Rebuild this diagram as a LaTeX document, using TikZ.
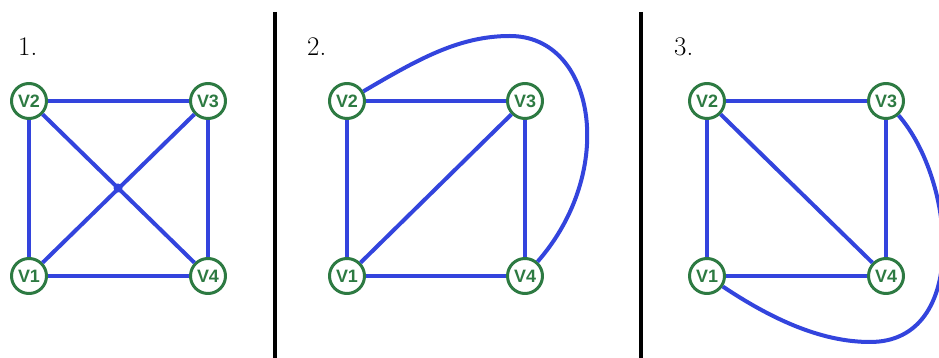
\documentclass[tikz,border=0pt]{standalone}
\usepackage{fontspec}
\newfontfamily\vfont{Liberation Sans}
\definecolor{vblue}{RGB}{51,68,221}
\definecolor{vgreen}{RGB}{45,122,66}
\tikzset{
  vertex/.style={circle,draw=vgreen,line width=3bp,fill=white,minimum size=35bp,inner sep=0pt,text=vgreen,font=\vfont\bfseries\fontsize{18}{20}\selectfont},
  edge/.style={vblue,line width=4bp},
  divider/.style={black,line width=4bp},
  panellabel/.style={anchor=base west,inner sep=0pt,font=\fontsize{27}{32}\selectfont},
}
\begin{document}
\begin{tikzpicture}[line join=round,]
\useasboundingbox (0bp,0bp) rectangle (939bp,358bp);
\clip (0bp,0bp) rectangle (939bp,358bp);
%%
\node (lab_1) at (18bp,302bp) [panellabel] {1.};
  \node (lab_2) at (307bp,302bp) [panellabel] {2.};
  \node (lab_3) at (674bp,302bp) [panellabel] {3.};
  \coordinate (div_1t) at (275bp,346bp);
  \coordinate (div_1b) at (275bp,0bp);
  \coordinate (div_2t) at (641bp,346bp);
  \coordinate (div_2b) at (641bp,0bp);
  \draw [divider] (div_1t) -- (div_1b);
  \draw [divider] (div_2t) -- (div_2b);
%
\node (a_1) at (29bp,82bp) [vertex] {V1};
  \node (a_2) at (29bp,257bp) [vertex] {V2};
  \node (a_3) at (208bp,257bp) [vertex] {V3};
  \node (a_4) at (208bp,82bp) [vertex] {V4};
  \coordinate (a_x) at (118bp,170bp);
  \draw [edge] (a_1) -- (a_2);
  \draw [edge] (a_2) -- (a_3);
  \draw [edge] (a_3) -- (a_4);
  \draw [edge] (a_4) -- (a_1);
  \draw [edge] (a_1) -- (a_3);
  \draw [edge] (a_2) -- (a_4);
  \fill [vblue] (a_x) circle (4.5bp);
%
\node (b_1) at (347bp,82bp) [vertex] {V1};
  \node (b_2) at (347bp,257bp) [vertex] {V2};
  \node (b_3) at (525bp,257bp) [vertex] {V3};
  \node (b_4) at (525bp,82bp) [vertex] {V4};
  \coordinate (b_top) at (510bp,322bp);
  \draw [edge] (b_1) -- (b_2);
  \draw [edge] (b_2) -- (b_3);
  \draw [edge] (b_3) -- (b_4);
  \draw [edge] (b_4) -- (b_1);
  \draw [edge] (b_1) -- (b_3);
  \draw [edge] (b_2) ..controls (420bp,300bp) and (460bp,322bp) .. (b_top) ..controls (595bp,322bp) and (618bp,188bp) .. (b_4);
%
\node (c_1) at (707bp,82bp) [vertex] {V1};
  \node (c_2) at (707bp,257bp) [vertex] {V2};
  \node (c_3) at (886bp,257bp) [vertex] {V3};
  \node (c_4) at (886bp,82bp) [vertex] {V4};
  \coordinate (c_bot) at (870bp,16bp);
  \draw [edge] (c_1) -- (c_2);
  \draw [edge] (c_2) -- (c_3);
  \draw [edge] (c_3) -- (c_4);
  \draw [edge] (c_4) -- (c_1);
  \draw [edge] (c_2) -- (c_4);
  \draw [edge] (c_1) ..controls (770bp,40bp) and (820bp,16bp) .. (c_bot) ..controls (970bp,16bp) and (955bp,178bp) .. (c_3);
%
\end{tikzpicture}
\end{document}
